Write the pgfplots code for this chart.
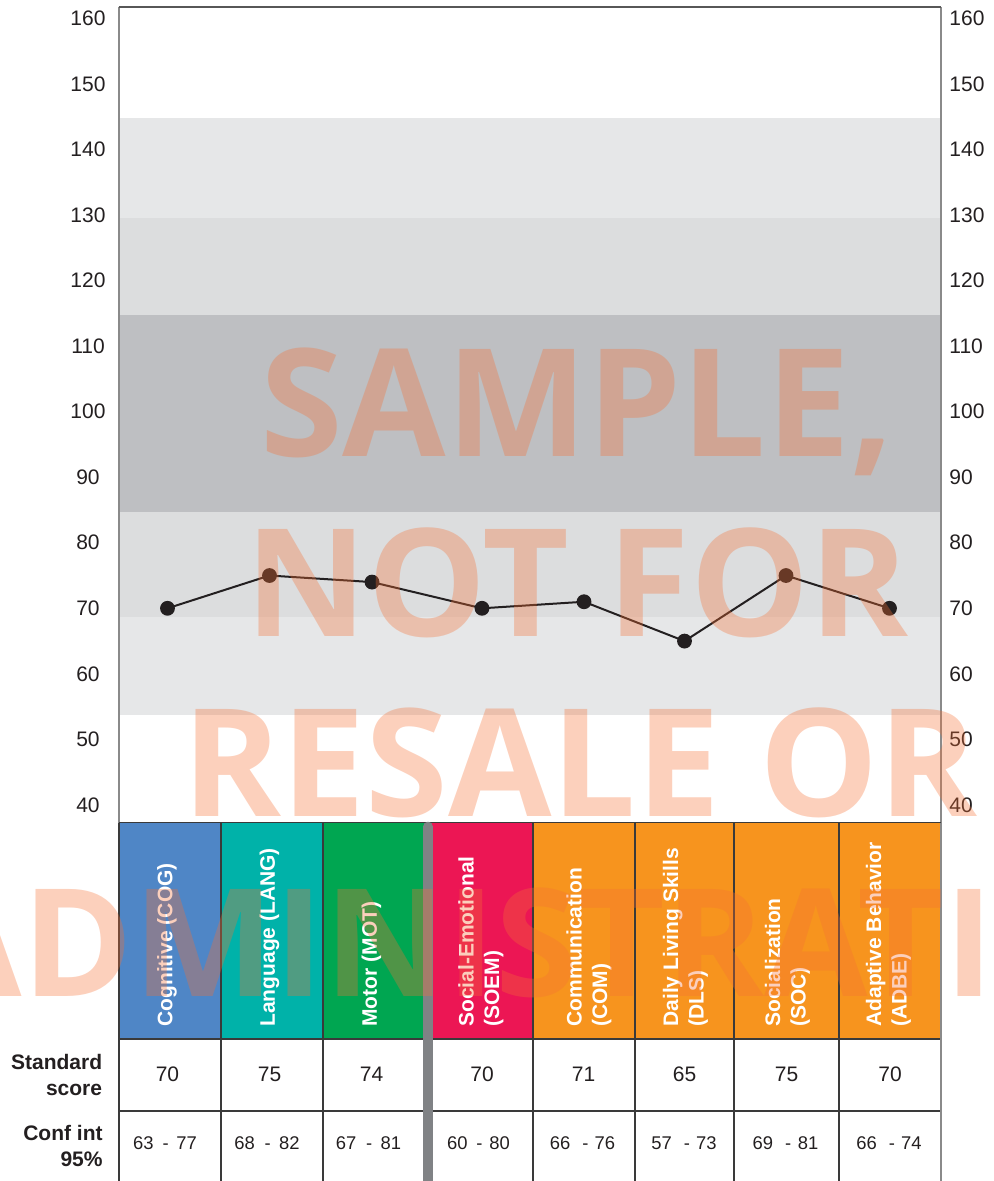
\documentclass[border=0pt]{standalone}
\usepackage{pgfplots}
\pgfplotsset{compat=1.18}
\usepackage{pgfplotstable}
\usepackage{fontspec}
\setmainfont{Liberation Sans}
\newfontfamily\wmfont{Open Sans}
\definecolor{txt}{HTML}{231F20}
\definecolor{bandA}{HTML}{E6E7E8}
\definecolor{bandB}{HTML}{DCDDDE}
\definecolor{bandC}{HTML}{BEBFC2}
\definecolor{cBlue}{HTML}{4F86C6}
\definecolor{cTeal}{HTML}{00B2A9}
\definecolor{cGreen}{HTML}{00A651}
\definecolor{cPink}{HTML}{EC1654}
\definecolor{cOrange}{HTML}{F7941E}
\definecolor{divg}{HTML}{808285}
\definecolor{gridc}{HTML}{3A3A3A}
\definecolor{framec}{HTML}{8A8A8A}
\definecolor{wmc}{RGB}{245,112,52}

\pgfplotstableread{
x y
167.5 70
269.5 75
372 74
482 70
584 71
684.5 65
786 75
889.5 70
}\scores

\begin{document}
\begin{tikzpicture}
\path[use as bounding box] (0pt,0pt) rectangle (496.5pt,590.5pt);

\begin{axis}[
  at={(59.5pt,179.15pt)}, anchor=south west,
  scale only axis, width=411pt, height=407.85pt,
  xmin=119, xmax=941, ymin=37.3, ymax=161.72,
  axis line style={draw=none},
  xtick=\empty,
  ytick={40,50,...,160},
  major tick length=0pt,
  /pgf/number format/assume math mode=true,
  yticklabel style={font=\fontsize{10.5}{12}\selectfont, text=txt, anchor=center, xshift=-15.5pt},
]
\addplot[draw=none, fill=bandA] coordinates {(119,129.6) (941,129.6) (941,144.84) (119,144.84)} -- cycle;
\addplot[draw=none, fill=bandB] coordinates {(119,114.74) (941,114.74) (941,129.6) (119,129.6)} -- cycle;
\addplot[draw=none, fill=bandC] coordinates {(119,84.7) (941,84.7) (941,114.74) (119,114.74)} -- cycle;
\addplot[draw=none, fill=bandB] coordinates {(119,68.73) (941,68.73) (941,84.7) (119,84.7)} -- cycle;
\addplot[draw=none, fill=bandA] coordinates {(119,53.8) (941,53.8) (941,68.73) (119,68.73)} -- cycle;
\addplot[txt, line width=1pt, mark=*, mark size=3.2pt, mark options={fill=txt, draw=txt, solid}] table[x=x, y=y] {\scores};
\end{axis}

\begin{axis}[
  at={(59.5pt,179.15pt)}, anchor=south west,
  scale only axis, width=411pt, height=407.85pt,
  xmin=119, xmax=941, ymin=37.3, ymax=161.72,
  axis line style={draw=none},
  xtick=\empty,
  ytick={40,50,...,160},
  yticklabel pos=right,
  major tick length=0pt,
  /pgf/number format/assume math mode=true,
  yticklabel style={font=\fontsize{10.5}{12}\selectfont, text=txt, anchor=west, inner sep=0pt, xshift=4pt},
]
\addplot[draw=none] coordinates {(119,40) (941,40)};
\end{axis}

\begin{scope}[shift={(0pt,590.5pt)}, x=0.5pt, y=-0.5pt]
% frame of plot area
\draw[framec, line width=0.6pt] (119,822.7) -- (119,7);
\draw[framec, line width=0.6pt] (941,822.7) -- (941,7);
\draw[gridc!85, line width=0.6pt] (118.7,7) -- (941.3,7);
% header cells
\fill[cBlue] (119,822.7) rectangle (221,1039);
\fill[cTeal] (221,822.7) rectangle (323,1039);
\fill[cGreen] (323,822.7) rectangle (428,1039);
\fill[cPink] (428,822.7) rectangle (533,1039);
\fill[cOrange] (533,822.7) rectangle (941,1039);
% grid
\draw[gridc, line width=0.7pt] (119,822.7) -- (941,822.7);
\draw[gridc, line width=0.7pt] (119,1039) -- (941,1039);
\draw[gridc, line width=0.7pt] (119,1111) -- (941,1111);
\foreach \xx in {119,221,323,533,635,734,839} {
  \draw[gridc, line width=0.7pt] (\xx,822.7) -- (\xx,1181);
}
\draw[framec, line width=0.7pt] (941,822.7) -- (941,1181);
% divider
\draw[divg, line width=5pt, line cap=round] (428,826.7) -- (428,1195);
% header labels
\tikzset{hdr/.style={rotate=90, anchor=west, inner sep=0pt, align=left, text=white, font=\bfseries\fontsize{10.5}{12.8}\selectfont}}
\node[hdr] at (167,1027) {Cognitive (COG)};
\node[hdr] at (269.5,1027) {Language (LANG)};
\node[hdr] at (371.5,1027) {Motor (MOT)};
\node[hdr] at (481,1027) {Social-Emotional\\(SOEM)};
\node[hdr] at (589,1027) {Communication\\(COM)};
\node[hdr] at (685.5,1027) {Daily Living Skills\\(DLS)};
\node[hdr] at (787.5,1027) {Socialization\\(SOC)};
\node[hdr] at (888.5,1027) {Adaptive Behavior\\(ADBE)};
% row labels
\tikzset{rl/.style={anchor=east, align=right, inner sep=0pt, text=txt, font=\bfseries\fontsize{10.5}{12.6}\selectfont}}
\node[rl] at (102.5,1075) {Standard\\score};
\node[rl] at (103,1146) {Conf int\\95\%};
% standard scores
\tikzset{sv/.style={inner sep=0pt, text=txt, font=\fontsize{10.5}{12}\selectfont}}
\node[sv] at (167.5,1074.5) {70};
\node[sv] at (269.5,1074.5) {75};
\node[sv] at (371.5,1074.5) {74};
\node[sv] at (482,1074.5) {70};
\node[sv] at (583.5,1074.5) {71};
\node[sv] at (684.5,1074.5) {65};
\node[sv] at (786.5,1074.5) {75};
\node[sv] at (890,1074.5) {70};
% confidence intervals
\tikzset{cv/.style={inner sep=0pt, text=txt, font=\fontsize{9.2}{11}\selectfont}}
\node[cv] at (165,1143) {63\hspace{4.6pt}-\hspace{3.8pt}77};
\node[cv] at (267,1143) {68\hspace{4.8pt}-\hspace{4.2pt}82};
\node[cv] at (368.5,1143) {67\hspace{4.8pt}-\hspace{4.2pt}81};
\node[cv] at (478.5,1143) {60\hspace{4.4pt}-\hspace{3.4pt}80};
\node[cv] at (582.5,1143) {66\hspace{6pt}-\hspace{3pt}76};
\node[cv] at (684,1143) {57\hspace{6pt}-\hspace{3pt}73};
\node[cv] at (785.5,1143) {69\hspace{6pt}-\hspace{3.4pt}81};
\node[cv] at (889,1143) {66\hspace{6pt}-\hspace{3pt}74};
% watermark
\begin{scope}
\clip (0,0) rectangle (993,1181);
\tikzset{wm/.style={anchor=base, inner sep=0pt, text=wmc, text opacity=0.33, font=\wmfont\bfseries\fontsize{75}{90}\selectfont}}
\node[wm] at (577,457) {SAMPLE,};
\node[wm] at (577,637) {NOT FOR};
\node[wm] at (580,817) {RESALE OR};
\node[wm] at (577,997) {ADMINISTRATION};
\end{scope}
\end{scope}
\end{tikzpicture}
\end{document}
